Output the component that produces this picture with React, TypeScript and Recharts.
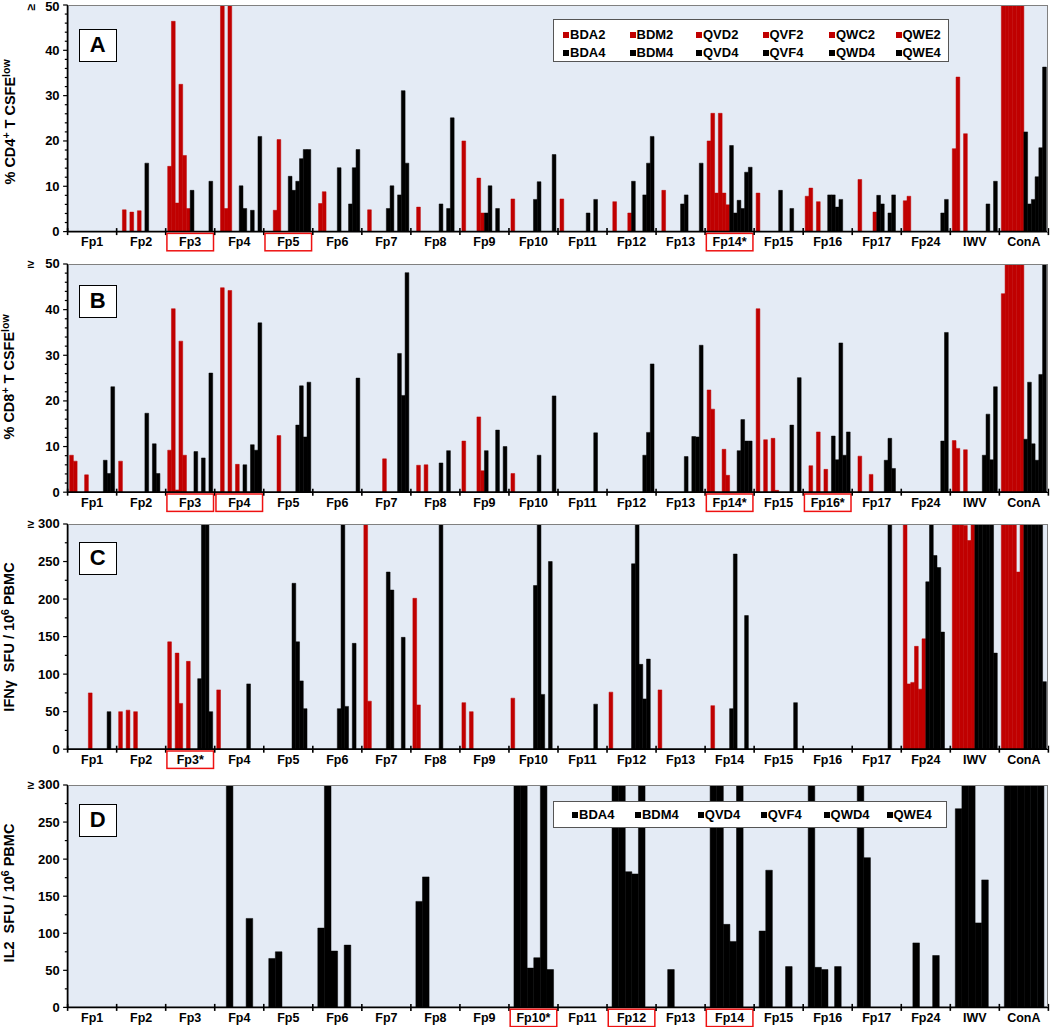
import React from "react";
import { Bar, BarChart, XAxis, YAxis } from "recharts";

const categories = [
  "Fp1", "Fp2", "Fp3", "Fp4", "Fp5", "Fp6", "Fp7", "Fp8", "Fp9", "Fp10",
  "Fp11", "Fp12", "Fp13", "Fp14", "Fp15", "Fp16", "Fp17", "Fp24", "IWV", "ConA",
];
const redSeries = ["BDA2", "BDM2", "QVD2", "QVF2", "QWC2", "QWE2"];
const blackSeries = ["BDA4", "BDM4", "QVD4", "QVF4", "QWD4", "QWE4"];

// tick labels per panel (asterisks only where the panel shows them)
const cd4Labels = categories.map((c) => (c === "Fp14" ? "Fp14*" : c));
const cd4Boxed = ["Fp3", "Fp5", "Fp14*"];
const cd8Labels = categories.map((c) => (c === "Fp14" ? "Fp14*" : c === "Fp16" ? "Fp16*" : c));
const cd8Boxed = ["Fp3", "Fp4", "Fp14*", "Fp16*"];
const ifnLabels = categories.map((c) => (c === "Fp3" ? "Fp3*" : c));
const ifnBoxed = ["Fp3*"];
const il2Labels = categories.map((c) => (c === "Fp10" ? "Fp10*" : c));
const il2Boxed = ["Fp10*", "Fp12", "Fp14"];

// one row per category: 6 red series then 6 black series (values above the axis max are "≥")
const cd4Values = [
  [0, 0, 0, 0, 0, 0, 0, 0, 0, 0, 0, 0],
  [0, 4.8, 0, 4.3, 0, 4.6, 0, 15.1, 0, 0, 0, 0],
  [14.4, 46.4, 6.3, 32.5, 16.8, 5.1, 9.1, 0, 0, 0, 0, 11.1],
  [0, 55, 5.1, 55, 0, 0, 10.1, 5.1, 0, 4.7, 0, 21],
  [0, 0, 4.7, 20.3, 0, 0, 12.2, 9.1, 11.1, 16.1, 18.1, 18.1],
  [0, 6.2, 8.8, 0, 0, 0, 14.1, 0, 0, 6.1, 14.1, 18.1],
  [0, 4.8, 0, 0, 0, 0, 5.1, 10.1, 0, 8.1, 31.1, 15.1],
  [0, 5.4, 0, 0, 0, 0, 0, 6.1, 0, 5.1, 25.1, 0],
  [20, 0, 0, 0, 11.8, 4.1, 4.1, 10.1, 0, 5.1, 0, 0],
  [7.2, 0, 0, 0, 0, 0, 7.1, 11, 0, 0, 0, 17],
  [7.2, 0, 0, 0, 0, 0, 0, 4.1, 0, 7.1, 0, 0],
  [0, 6.6, 0, 0, 0, 4.1, 11.1, 0, 0, 8.1, 15.1, 21],
  [0, 9.1, 0, 0, 0, 0, 6.1, 8.1, 0, 0, 0, 15.1],
  [20, 26.1, 8.5, 26.1, 8.5, 5.9, 19, 4.1, 6.9, 5.1, 13.1, 14.2],
  [8.5, 0, 0, 0, 0, 0, 9.1, 0, 0, 5.1, 0, 0],
  [7.8, 9.6, 0, 6.6, 0, 0, 8.1, 8.1, 5.4, 7.1, 0, 0],
  [0, 11.5, 0, 0, 0, 4.3, 8, 6.1, 0, 4.1, 8.1, 0],
  [6.8, 7.8, 0, 0, 0, 0, 0, 0, 0, 0, 4.1, 7.1],
  [18.3, 34.1, 0, 21.6, 0, 0, 0, 0, 0, 6.1, 0, 11.1],
  [55, 55, 55, 55, 55, 55, 22, 6.1, 7.1, 12.1, 18.5, 36.3],
];

const cd8Values = [
  [8.1, 6.8, 0, 0, 3.8, 0, 0, 0, 0, 7, 4.1, 23.1],
  [6.8, 0, 0, 0, 0, 0, 0, 17.3, 0, 10.6, 4.1, 0],
  [9.2, 40.2, 0.5, 33.1, 8.1, 0, 0, 8.9, 0, 7.5, 0, 26.1],
  [0, 44.8, 0, 44.2, 0, 6.1, 0, 6, 0, 10.4, 9.2, 37.1],
  [0, 0, 0, 12.4, 0, 0, 0, 0, 14.7, 23.3, 12.1, 24.1],
  [0, 0, 0, 0, 0, 0, 0, 0, 0, 0, 0, 25],
  [0, 0, 0, 0, 0, 7.3, 0, 0, 0, 30.4, 21.2, 48.1],
  [0, 5.9, 0, 6, 0, 0, 0, 6.4, 0, 9.1, 0, 0],
  [11.2, 0, 0, 0, 16.5, 4.7, 9.1, 0, 0, 13.6, 0, 10],
  [4.1, 0, 0, 0, 0, 0, 0, 8.1, 0, 0, 0, 21.1],
  [0, 0, 0, 0, 0, 0, 0, 0, 0, 13, 0, 0],
  [0, 0, 0, 0, 0, 0, 0, 0, 0, 8.1, 13.1, 28.1],
  [0, 0, 0, 0, 0, 0, 0, 7.8, 0, 12.2, 12.1, 32.2],
  [22.4, 18.2, 0, 0, 9.4, 3.7, 0, 0, 9.1, 15.9, 11.2, 11.2],
  [40.2, 0, 11.5, 0, 11.8, 0.4, 0, 0, 0, 14.7, 0, 25.1],
  [0, 5.8, 0, 13.2, 0, 5, 0, 12.3, 7.1, 32.7, 8.1, 13.2],
  [0, 7.9, 0, 0, 3.9, 0, 0, 0, 7, 11.8, 5.2, 0],
  [0, 0, 0, 0, 0, 0, 0, 0, 0, 0, 11.2, 35],
  [11.3, 9.6, 0, 9.3, 0, 0, 0, 0, 8.1, 17.1, 7.1, 23.1],
  [43.5, 55, 55, 55, 55, 55, 11.6, 24.1, 10.6, 7, 25.8, 55],
];

const ifnValues = [
  [0, 0, 0, 0, 0, 75, 0, 0, 0, 0, 50, 0],
  [50, 0, 52, 0, 50, 0, 0, 0, 0, 0, 0, 0],
  [143, 0, 128, 61, 0, 117, 0, 0, 94, 310, 310, 50],
  [79, 0, 0, 0, 0, 0, 0, 0, 87, 0, 0, 0],
  [0, 0, 0, 0, 0, 0, 0, 221, 143, 91, 54, 0],
  [0, 0, 0, 0, 0, 0, 54, 310, 57, 0, 141, 0],
  [310, 64, 0, 0, 0, 0, 236, 212, 0, 0, 149, 0],
  [201, 59, 0, 0, 0, 0, 0, 310, 0, 0, 0, 0],
  [62, 0, 50, 0, 0, 0, 0, 0, 0, 0, 0, 0],
  [68, 0, 0, 0, 0, 0, 218, 310, 73, 0, 250, 0],
  [0, 0, 0, 0, 0, 0, 0, 0, 0, 60, 0, 0],
  [76, 0, 0, 0, 0, 0, 247, 310, 113, 67, 120, 0],
  [79, 0, 0, 0, 0, 0, 0, 0, 0, 0, 0, 0],
  [0, 58, 0, 0, 0, 0, 54, 260, 0, 0, 178, 0],
  [0, 0, 0, 0, 0, 0, 0, 0, 0, 0, 62, 0],
  [0, 0, 0, 0, 0, 0, 0, 0, 0, 0, 0, 0],
  [0, 0, 0, 0, 0, 0, 0, 0, 0, 310, 0, 0],
  [310, 87, 89, 137, 80, 147, 223, 310, 258, 242, 156, 0],
  [310, 310, 310, 298, 278, 310, 310, 310, 310, 310, 310, 128],
  [310, 310, 310, 310, 236, 310, 310, 310, 310, 310, 310, 90],
];

// IL2: black series only
const il2Values = [
  [0, 0, 0, 0, 0, 0],
  [0, 0, 0, 0, 0, 0],
  [0, 0, 0, 0, 0, 0],
  [0, 310, 0, 0, 120, 0],
  [66, 75, 0, 0, 0, 0],
  [107, 310, 76, 0, 84, 0],
  [0, 0, 0, 0, 0, 0],
  [143, 176, 0, 0, 0, 0],
  [0, 0, 0, 0, 0, 0],
  [310, 310, 53, 67, 310, 51],
  [0, 0, 0, 0, 0, 0],
  [310, 310, 183, 180, 310, 0],
  [0, 51, 0, 0, 0, 0],
  [310, 310, 112, 89, 310, 0],
  [103, 185, 0, 0, 55, 0],
  [310, 54, 51, 0, 55, 0],
  [310, 202, 0, 0, 0, 0],
  [0, 87, 0, 0, 70, 0],
  [268, 310, 310, 114, 172, 0],
  [310, 310, 310, 310, 310, 310],
];

const RED = "#c00000";
const BLACK = "#000000";
const BG = "#e4ebf5";
const FONT = "Arial, 'Liberation Sans', sans-serif";
const PLOT_LEFT = 67.6;
const PLOT_W = 980.8;
const BAND = PLOT_W / categories.length;
const TOP_PAD = 14;

const range = (max: number, step: number) => {
  const out: number[] = [];
  for (let v = 0; v <= max + 0.001; v += step) out.push(v);
  return out;
};

function XTick(props: any) {
  const { x, y, payload, boxed, lastLabel } = props;
  const label = payload.value as string;
  const half = BAND / 2;
  return (
    <g>
      <line x1={x - half} x2={x - half} y1={y - 3.5} y2={y + 3.5} stroke={BLACK} strokeWidth={1.6} />
      {label === lastLabel && (
        <line x1={x + half} x2={x + half} y1={y - 3.5} y2={y + 3.5} stroke={BLACK} strokeWidth={1.6} />
      )}
      {boxed.includes(label) && (
        <rect x={x - 23.3} y={y + 1.8} width={46.6} height={17.4} fill="none" stroke="#ee1111" strokeWidth={1.5} />
      )}
      <text x={x} y={y + 14.8} textAnchor="middle" fontFamily={FONT} fontWeight="bold" fontSize={12.5} fill={BLACK}>
        {label}
      </text>
    </g>
  );
}

function YTick(props: any) {
  const { x, y, payload, major, max, rotateGe, pageOffset } = props;
  const v = payload.value as number;
  const isMajor = Math.abs(v % major) < 0.001;
  // keep the top label inside the page when the plot starts at its edge (page y = svg y + pageOffset)
  const textY = Math.max(y + 4.5, 11 - pageOffset);
  const geY = Math.max(y, 7 - pageOffset);
  return (
    <g>
      <line x1={x - (isMajor ? 4.5 : 2.8)} x2={x} y1={y} y2={y} stroke={BLACK} strokeWidth={1.2} />
      {isMajor && (
        <text x={x - 8} y={textY} textAnchor="end" fontFamily={FONT} fontWeight="bold" fontSize={13} fill={BLACK}>
          {v}
        </text>
      )}
      {v === max && (
        <text
          x={31}
          y={geY}
          dy={4}
          textAnchor="middle"
          fontFamily={FONT}
          fontWeight="bold"
          fontSize={12}
          fill={BLACK}
          transform={rotateGe ? `rotate(-90 31 ${geY})` : undefined}
        >
          ≥
        </text>
      )}
    </g>
  );
}

type PanelProps = {
  top: number;
  bottom: number;
  labels: string[];
  boxed: string[];
  keys: string[];
  colors: string[];
  values: number[][];
  max: number;
  major: number;
  minor: number;
  barSize: number;
  rotateGe?: boolean;
};

function Panel(p: PanelProps) {
  const data = p.labels.map((label, i) => {
    const row: Record<string, string | number> = { cat: label };
    p.keys.forEach((k, j) => {
      row[k] = p.values[i][j];
    });
    return row;
  });
  const plotH = p.bottom - p.top;
  const pageOffset = p.top - TOP_PAD;
  return (
    <>
      <div style={{ position: "absolute", left: PLOT_LEFT, top: p.top, width: PLOT_W, height: plotH, background: BG }} />
      <div style={{ position: "absolute", left: 0, top: pageOffset }}>
        <BarChart
          width={1050}
          height={plotH + TOP_PAD + 22}
          data={data}
          margin={{ top: TOP_PAD, right: 1050 - PLOT_LEFT - PLOT_W, bottom: 0, left: 0 }}
          barSize={p.barSize}
          barGap={0}
        >
          <XAxis
            dataKey="cat"
            height={22}
            interval={0}
            tickLine={false}
            tickSize={0}
            tickMargin={0}
            axisLine={{ stroke: BLACK, strokeWidth: 1.8 }}
            tick={(t: any) => <XTick {...t} boxed={p.boxed} lastLabel={p.labels[p.labels.length - 1]} />}
          />
          <YAxis
            width={PLOT_LEFT}
            type="number"
            domain={[0, p.max]}
            allowDataOverflow
            ticks={range(p.max, p.minor)}
            interval={0}
            tickLine={false}
            tickSize={0}
            tickMargin={0}
            axisLine={{ stroke: BLACK, strokeWidth: 1.8 }}
            tick={(t: any) => (
              <YTick {...t} major={p.major} max={p.max} rotateGe={p.rotateGe} pageOffset={pageOffset} />
            )}
          />
          {p.keys.map((k, j) => (
            <Bar
              key={k}
              dataKey={k}
              fill={p.colors[j]}
              stroke={p.colors[j]}
              strokeWidth={0.5}
              isAnimationActive={false}
            />
          ))}
        </BarChart>
      </div>
      <div
        style={{
          position: "absolute",
          left: PLOT_LEFT,
          top: p.top,
          width: PLOT_W,
          height: plotH,
          borderTop: "1px solid #808080",
          borderRight: "1px solid #808080",
          boxSizing: "border-box",
          pointerEvents: "none",
        }}
      />
    </>
  );
}

function Letter({ text, top }: { text: string; top: number }) {
  return (
    <div
      style={{
        position: "absolute",
        left: 78.5,
        top,
        width: 38.5,
        height: 33,
        boxSizing: "border-box",
        border: "1.6px solid #000",
        background: "#fff",
        fontFamily: FONT,
        fontWeight: "bold",
        fontSize: 22,
        lineHeight: "30px",
        textAlign: "center",
      }}
    >
      {text}
    </div>
  );
}

const supStyle: React.CSSProperties = { fontSize: "0.72em", position: "relative", top: "-0.45em" };

function YLabel({ cx, cy, children }: { cx: number; cy: number; children: React.ReactNode }) {
  return (
    <div
      style={{
        position: "absolute",
        left: cx,
        top: cy,
        transform: "translate(-50%, -50%) rotate(-90deg)",
        whiteSpace: "nowrap",
        fontFamily: FONT,
        fontWeight: "bold",
        fontSize: 14.5,
        lineHeight: "16px",
      }}
    >
      {children}
    </div>
  );
}

function Legend({
  left,
  top,
  width,
  height,
  rows,
  firstX,
  step,
}: {
  left: number;
  top: number;
  width: number;
  height: number;
  rows: { names: string[]; color: string; y: number }[];
  firstX: number;
  step: number;
}) {
  return (
    <div
      style={{
        position: "absolute",
        left,
        top,
        width,
        height,
        boxSizing: "border-box",
        border: "1px solid #555",
        background: "#fff",
        fontFamily: FONT,
        fontWeight: "bold",
        fontSize: 13,
      }}
    >
      {rows.map((row) =>
        row.names.map((name, i) => (
          <div
            key={name}
            style={{
              position: "absolute",
              left: firstX + i * step,
              top: row.y - 8,
              height: 16,
              lineHeight: "16px",
              whiteSpace: "nowrap",
              display: "flex",
              alignItems: "center",
            }}
          >
            <span style={{ display: "inline-block", width: 6, height: 6, background: row.color, marginRight: 1 }} />
            {name}
          </div>
        ))
      )}
    </div>
  );
}

const allKeys = [...redSeries, ...blackSeries];
const allColors = [...redSeries.map(() => RED), ...blackSeries.map(() => BLACK)];

export default function App() {
  return (
    <div style={{ position: "absolute", left: 0, top: 0, width: 1050, height: 1027, background: "#fff", overflow: "hidden" }}>
      <Panel top={5} bottom={231.6} labels={cd4Labels} boxed={cd4Boxed} keys={allKeys} colors={allColors}
        values={cd4Values} max={50} major={10} minor={2} barSize={3.75} rotateGe />
      <Panel top={263.5} bottom={491.7} labels={cd8Labels} boxed={cd8Boxed} keys={allKeys} colors={allColors}
        values={cd8Values} max={50} major={10} minor={2} barSize={3.75} />
      <Panel top={524.2} bottom={749.4} labels={ifnLabels} boxed={ifnBoxed} keys={allKeys} colors={allColors}
        values={ifnValues} max={300} major={50} minor={25} barSize={3.75} />
      <Panel top={784.9} bottom={1007.3} labels={il2Labels} boxed={il2Boxed} keys={blackSeries}
        colors={blackSeries.map(() => BLACK)} values={il2Values} max={300} major={50} minor={25} barSize={6.6} />

      <Letter text="A" top={29} />
      <Letter text="B" top={285} />
      <Letter text="C" top={542} />
      <Letter text="D" top={804} />

      <YLabel cx={10.5} cy={121.7}>
        % CD4<span style={supStyle}>+</span> T CSFE<span style={supStyle}>low</span>
      </YLabel>
      <YLabel cx={10} cy={376.5}>
        % CD8<span style={supStyle}>+</span> T CSFE<span style={supStyle}>low</span>
      </YLabel>
      <YLabel cx={9.5} cy={636.7}>
        IFNγ&nbsp; SFU / 10<span style={supStyle}>6</span> PBMC
      </YLabel>
      <YLabel cx={9.5} cy={893}>
        IL2&nbsp; SFU / 10<span style={supStyle}>6</span> PBMC
      </YLabel>

      <Legend
        left={553}
        top={19}
        width={396}
        height={43}
        firstX={9}
        step={66.5}
        rows={[
          { names: redSeries, color: RED, y: 14.5 },
          { names: blackSeries, color: BLACK, y: 32.5 },
        ]}
      />
      <Legend
        left={553}
        top={801}
        width={394}
        height={27}
        firstX={18}
        step={62.9}
        rows={[{ names: blackSeries, color: BLACK, y: 13 }]}
      />
    </div>
  );
}
